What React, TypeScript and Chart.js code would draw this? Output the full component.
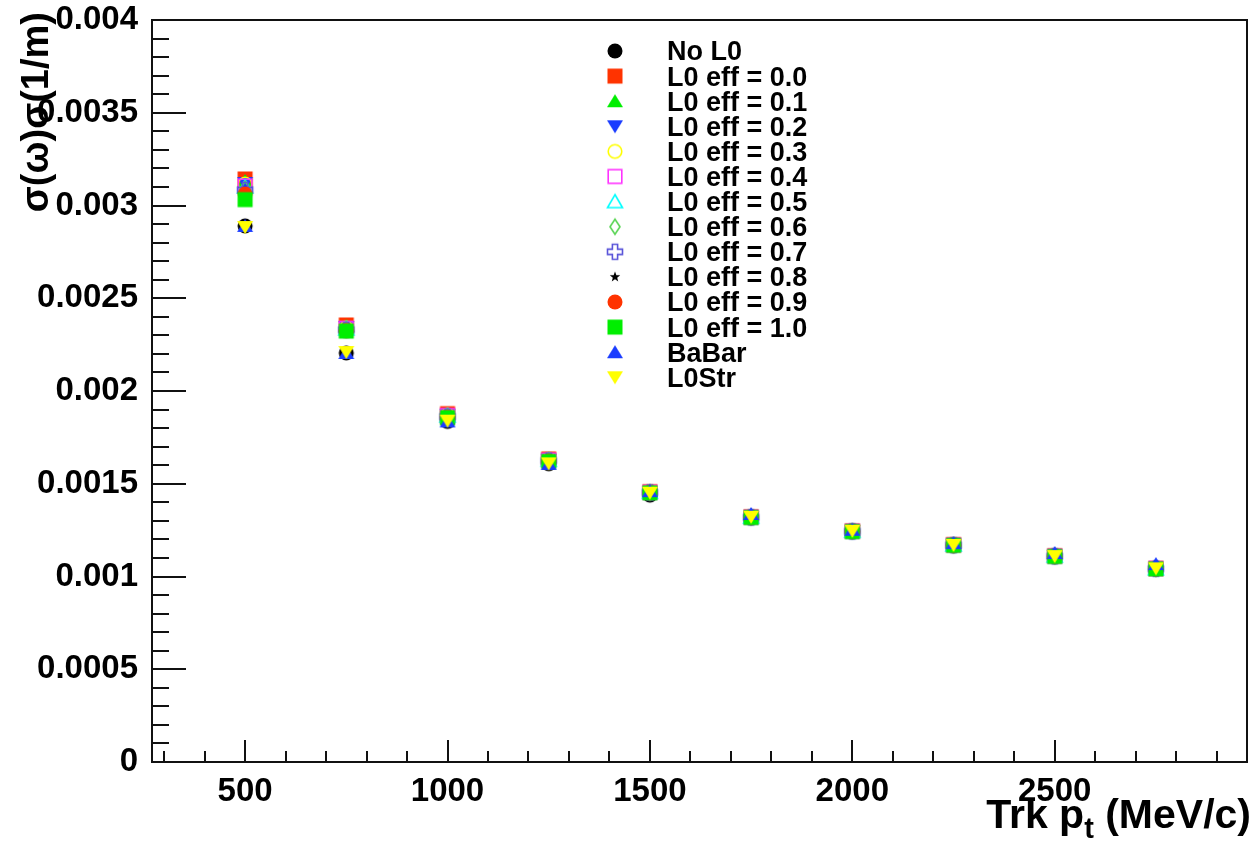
import React, { useEffect, useRef } from 'react';
import { Chart, registerables } from 'chart.js';

Chart.register(...registerables);

// ---------------- data ----------------
const X_VALUES = [500, 750, 1000, 1250, 1500, 1750, 2000, 2250, 2500, 2750];

const SERIES_LABELS = [
  'No L0',
  'L0 eff = 0.0',
  'L0 eff = 0.1',
  'L0 eff = 0.2',
  'L0 eff = 0.3',
  'L0 eff = 0.4',
  'L0 eff = 0.5',
  'L0 eff = 0.6',
  'L0 eff = 0.7',
  'L0 eff = 0.8',
  'L0 eff = 0.9',
  'L0 eff = 1.0',
  'BaBar',
  'L0Str',
];

const NO_L0 = [0.00289, 0.002205, 0.001836, 0.001608, 0.001439, 0.001318, 0.001243, 0.001168, 0.001108, 0.001042];
const L0_EFF_00 = [0.003143, 0.002356, 0.001878, 0.001634, 0.001457, 0.001322, 0.001246, 0.001172, 0.001112, 0.001044];
const L0_EFF_01 = [0.003132, 0.00235, 0.001875, 0.001632, 0.001456, 0.001322, 0.001246, 0.001171, 0.001111, 0.001044];
const L0_EFF_02 = [0.003121, 0.002345, 0.001872, 0.00163, 0.001455, 0.001321, 0.001245, 0.001171, 0.001111, 0.001043];
const L0_EFF_03 = [0.003116, 0.00234, 0.00187, 0.001629, 0.001455, 0.001321, 0.001245, 0.00117, 0.00111, 0.001043];
const L0_EFF_04 = [0.003105, 0.002338, 0.001868, 0.001628, 0.001454, 0.00132, 0.001244, 0.00117, 0.00111, 0.001043];
const L0_EFF_05 = [0.0031, 0.002335, 0.001866, 0.001627, 0.001454, 0.00132, 0.001244, 0.00117, 0.00111, 0.001042];
const L0_EFF_06 = [0.00309, 0.002333, 0.001864, 0.001626, 0.001453, 0.00132, 0.001244, 0.001169, 0.00111, 0.001042];
const L0_EFF_07 = [0.003084, 0.00233, 0.001862, 0.001625, 0.001453, 0.001319, 0.001243, 0.001169, 0.001109, 0.001042];
const L0_EFF_08 = [0.003073, 0.002328, 0.00186, 0.001624, 0.001452, 0.001319, 0.001243, 0.001169, 0.001109, 0.001042];
const L0_EFF_09 = [0.003062, 0.002326, 0.001858, 0.001622, 0.001452, 0.001319, 0.001243, 0.001168, 0.001109, 0.001041];
const L0_EFF_10 = [0.003032, 0.002323, 0.001856, 0.00162, 0.001451, 0.001318, 0.001242, 0.001168, 0.001108, 0.001041];
const BABAR = [0.00289, 0.002205, 0.001836, 0.001607, 0.00146, 0.001337, 0.001252, 0.00118, 0.001127, 0.001067];
const L0_STR = [0.002884, 0.00221, 0.00184, 0.00161, 0.001452, 0.001322, 0.001246, 0.00117, 0.00111, 0.001044];

const SERIES_VALUES = [
  NO_L0, L0_EFF_00, L0_EFF_01, L0_EFF_02, L0_EFF_03, L0_EFF_04, L0_EFF_05,
  L0_EFF_06, L0_EFF_07, L0_EFF_08, L0_EFF_09, L0_EFF_10, BABAR, L0_STR,
];

const X_TICKS = [500, 1000, 1500, 2000, 2500];
const Y_TICKS = [0, 0.0005, 0.001, 0.0015, 0.002, 0.0025, 0.003, 0.0035, 0.004];
const Y_TICK_LABELS = ['0', '0.0005', '0.001', '0.0015', '0.002', '0.0025', '0.003', '0.0035', '0.004'];

const X_TITLE_MAIN = 'Trk p';
const X_TITLE_SUB = 't';
const X_TITLE_REST = ' (MeV/c)';
const Y_TITLE = 'σ(ω)σ(1/m)';

// ---------------- styles ----------------
const SERIES_STYLES = [
  { shape: 'circle', color: '#000000' },
  { shape: 'square', color: '#ff3300' },
  { shape: 'triUp', color: '#00ee00' },
  { shape: 'triDown', color: '#1a3cff' },
  { shape: 'openCircle', color: '#ffff00' },
  { shape: 'openSquare', color: '#ff33ff' },
  { shape: 'openTri', color: '#00ffff' },
  { shape: 'openDiamond', color: '#59d454' },
  { shape: 'openCross', color: '#5954d9' },
  { shape: 'star', color: '#000000' },
  { shape: 'circle', color: '#ff3300' },
  { shape: 'square', color: '#00ee00' },
  { shape: 'triUp', color: '#1a3cff' },
  { shape: 'triDown', color: '#ffff00' },
];

const FONT = '"Liberation Sans", Arial, Helvetica, sans-serif';

function makeMarker(shape: string, color: string): HTMLCanvasElement {
  const s = 20;
  const c = document.createElement('canvas');
  c.width = s;
  c.height = s;
  const ctx = c.getContext('2d')!;
  const m = s / 2;
  ctx.fillStyle = color;
  ctx.strokeStyle = color;
  ctx.lineWidth = 1.6;
  ctx.beginPath();
  switch (shape) {
    case 'circle':
      ctx.arc(m, m, 7.5, 0, Math.PI * 2);
      ctx.fill();
      break;
    case 'square':
      ctx.fillRect(m - 7.5, m - 7.5, 15, 15);
      break;
    case 'triUp':
      ctx.moveTo(m, m - 7);
      ctx.lineTo(m + 8, m + 6);
      ctx.lineTo(m - 8, m + 6);
      ctx.closePath();
      ctx.fill();
      break;
    case 'triDown':
      ctx.moveTo(m, m + 7);
      ctx.lineTo(m + 8, m - 6);
      ctx.lineTo(m - 8, m - 6);
      ctx.closePath();
      ctx.fill();
      break;
    case 'openCircle':
      ctx.arc(m, m, 6.8, 0, Math.PI * 2);
      ctx.stroke();
      break;
    case 'openSquare':
      ctx.strokeRect(m - 6.8, m - 6.8, 13.6, 13.6);
      break;
    case 'openTri':
      ctx.moveTo(m, m - 7);
      ctx.lineTo(m + 7.5, m + 6);
      ctx.lineTo(m - 7.5, m + 6);
      ctx.closePath();
      ctx.stroke();
      break;
    case 'openDiamond':
      ctx.moveTo(m, m - 7.5);
      ctx.lineTo(m + 5, m);
      ctx.lineTo(m, m + 7.5);
      ctx.lineTo(m - 5, m);
      ctx.closePath();
      ctx.stroke();
      break;
    case 'openCross': {
      const a = 2.6;
      const b = 7.5;
      ctx.moveTo(m - a, m - b);
      ctx.lineTo(m + a, m - b);
      ctx.lineTo(m + a, m - a);
      ctx.lineTo(m + b, m - a);
      ctx.lineTo(m + b, m + a);
      ctx.lineTo(m + a, m + a);
      ctx.lineTo(m + a, m + b);
      ctx.lineTo(m - a, m + b);
      ctx.lineTo(m - a, m + a);
      ctx.lineTo(m - b, m + a);
      ctx.lineTo(m - b, m - a);
      ctx.lineTo(m - a, m - a);
      ctx.closePath();
      ctx.stroke();
      break;
    }
    case 'star': {
      const R = 5.5;
      const r = 2.3;
      for (let i = 0; i < 10; i++) {
        const ang = -Math.PI / 2 + (i * Math.PI) / 5;
        const rad = i % 2 === 0 ? R : r;
        const px = m + rad * Math.cos(ang);
        const py = m + rad * Math.sin(ang);
        if (i === 0) ctx.moveTo(px, py);
        else ctx.lineTo(px, py);
      }
      ctx.closePath();
      ctx.fill();
      break;
    }
  }
  return c;
}

const rootPlugin = {
  id: 'rootDecor',
  beforeDatasetsDraw(chart: any) {
    const { ctx, chartArea } = chart;
    const xs = chart.scales.x;
    const ys = chart.scales.y;
    ctx.save();
    ctx.strokeStyle = '#111';
    ctx.lineWidth = 2;
    ctx.strokeRect(chartArea.left, chartArea.top, chartArea.right - chartArea.left, chartArea.bottom - chartArea.top);
    ctx.lineWidth = 2;
    // x ticks (inside)
    const xStart = Math.ceil(xs.min / 100) * 100;
    for (let v = xStart; v <= xs.max; v += 100) {
      const px = Math.round(xs.getPixelForValue(v));
      const major = v % 500 === 0;
      const len = major ? 22 : 11;
      ctx.beginPath();
      ctx.moveTo(px, chartArea.bottom);
      ctx.lineTo(px, chartArea.bottom - len);
      ctx.stroke();
    }
    // y ticks (inside)
    for (let i = 0; i <= 40; i++) {
      const v = (ys.max - ys.min) * (i / 40) + ys.min;
      const py = Math.round(ys.getPixelForValue(v));
      const major = i % 5 === 0;
      const len = major ? 34 : 17;
      ctx.beginPath();
      ctx.moveTo(chartArea.left, py);
      ctx.lineTo(chartArea.left + len, py);
      ctx.stroke();
    }
    ctx.restore();
  },
  afterDraw(chart: any) {
    const { ctx } = chart;
    ctx.save();
    ctx.fillStyle = '#000';
    // legend
    ctx.font = `bold 27px ${FONT}`;
    ctx.textBaseline = 'middle';
    ctx.textAlign = 'left';
    chart.data.datasets.forEach((ds: any, i: number) => {
      const cy = 51 + i * 25.1;
      const img = ds.pointStyle as HTMLCanvasElement;
      ctx.drawImage(img, 615 - img.width / 2, cy - img.height / 2);
      ctx.fillStyle = '#000';
      ctx.fillText(ds.label, 667, cy + 2);
    });
    // x title
    ctx.textBaseline = 'alphabetic';
    const big = `bold 41px ${FONT}`;
    const small = `bold 29px ${FONT}`;
    ctx.font = big;
    const w1 = ctx.measureText(X_TITLE_MAIN).width;
    const w3 = ctx.measureText(X_TITLE_REST).width;
    ctx.font = small;
    const w2 = ctx.measureText(X_TITLE_SUB).width;
    const right = 1251;
    let x0 = right - (w1 + w2 + w3);
    const base = 828;
    ctx.font = big;
    ctx.fillText(X_TITLE_MAIN, x0, base);
    x0 += w1;
    ctx.font = small;
    ctx.fillText(X_TITLE_SUB, x0, base + 10);
    x0 += w2;
    ctx.font = big;
    ctx.fillText(X_TITLE_REST, x0, base);
    // y title
    ctx.translate(38, 12);
    ctx.rotate(-Math.PI / 2);
    ctx.font = `bold 38px ${FONT}`;
    ctx.textAlign = 'right';
    ctx.textBaseline = 'middle';
    ctx.fillText(Y_TITLE, 0, 0);
    ctx.restore();
  },
};

export default function App() {
  const ref = useRef<HTMLCanvasElement | null>(null);

  useEffect(() => {
    if (!ref.current) return;
    const n = SERIES_LABELS.length;
    const datasets = SERIES_LABELS.map((label, i) => ({
      label,
      data: X_VALUES.map((x, k) => ({ x, y: SERIES_VALUES[i][k] })),
      pointStyle: makeMarker(SERIES_STYLES[i].shape, SERIES_STYLES[i].color),
      pointRadius: 8,
      showLine: false,
      order: n - 1 - i,
    }));

    const tickFont = { family: FONT, size: 33, weight: 'bold' as const };

    const chart = new Chart(ref.current, {
      type: 'scatter',
      data: { datasets },
      plugins: [rootPlugin],
      options: {
        animation: false,
        responsive: false,
        events: [],
        layout: { padding: { top: 20, right: 7, left: 0, bottom: 0 } },
        plugins: { legend: { display: false }, tooltip: { enabled: false } },
        scales: {
          x: {
            type: 'linear',
            min: 270,
            max: 2975,
            afterFit: (s: any) => {
              s.height = 91;
              s.paddingLeft = 0;
              s.paddingRight = 0;
            },
            afterBuildTicks: (s: any) => {
              s.ticks = X_TICKS.map((v) => ({ value: v }));
            },
            grid: { display: false, drawTicks: false },
            border: { display: false },
            ticks: {
              font: tickFont,
              color: '#000',
              padding: 10,
              maxRotation: 0,
              autoSkip: false,
              callback: (v: any) => String(v),
            },
          },
          y: {
            type: 'linear',
            min: 0,
            max: 0.004,
            afterFit: (s: any) => {
              s.width = 152;
              s.paddingTop = 0;
              s.paddingBottom = 0;
            },
            afterBuildTicks: (s: any) => {
              s.ticks = Y_TICKS.map((v) => ({ value: v }));
            },
            grid: { display: false, drawTicks: false },
            border: { display: false },
            ticks: {
              font: tickFont,
              color: '#000',
              padding: 14,
              autoSkip: false,
              callback: (v: any) => {
                const idx = Y_TICKS.findIndex((t) => Math.abs(t - Number(v)) < 1e-9);
                return idx >= 0 ? Y_TICK_LABELS[idx] : '';
              },
            },
          },
        },
      },
    });
    return () => chart.destroy();
  }, []);

  return (
    <div style={{ position: 'absolute', left: 0, top: 0, width: 1256, height: 853, background: '#fff' }}>
      <canvas ref={ref} width={1256} height={853} style={{ display: 'block' }} />
    </div>
  );
}
